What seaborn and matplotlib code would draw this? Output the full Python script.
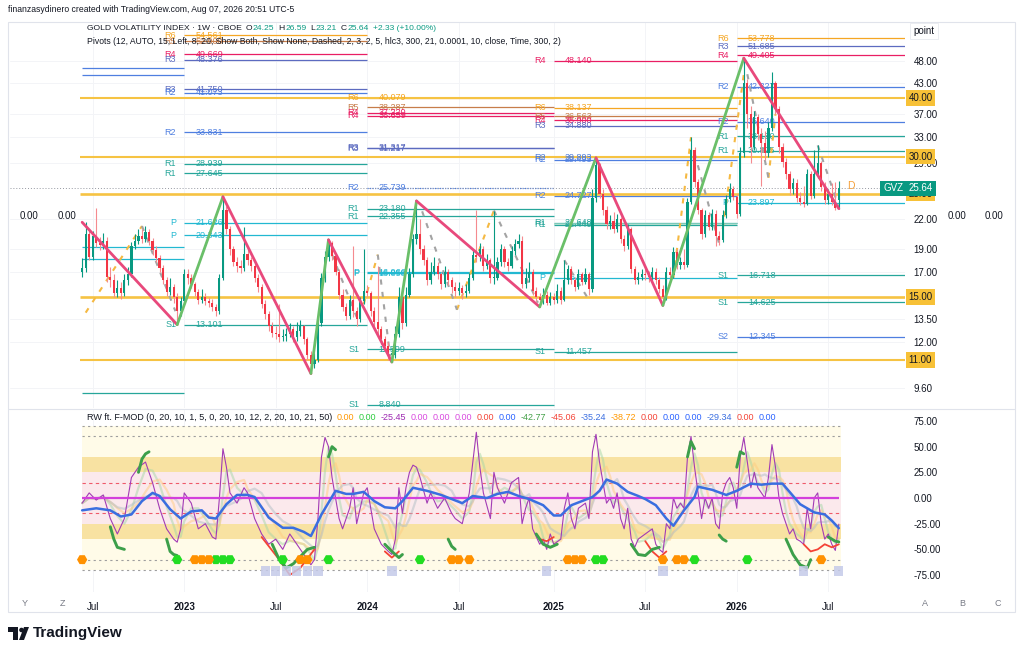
import numpy as np
import pandas as pd
import matplotlib
matplotlib.use("Agg")
import matplotlib.pyplot as plt
import seaborn as sns
from matplotlib.patches import Rectangle, Polygon, Circle
from matplotlib.transforms import Affine2D, blended_transform_factory

# ---------------- DATA ----------------
start_date = "2022-06-13"
first_open = 17.0
last_open = 24.25

closes = [17.3, 20.5, 18.3, 20.3, 19.6, 19.4, 19.8, 16.6, 16.3, 15.3,
          15.7, 15.3, 16.3, 16.8, 19.3, 19.8, 20.3, 20.0, 20.7, 19.8,
          18.9, 18.2, 17.3, 16.3, 15.4, 15.8, 15.0, 14.0, 14.7, 16.8,
          16.5, 16.0, 15.4, 14.8, 15.0, 14.7, 14.6, 14.3, 14.0, 16.5,
          23.0, 21.0, 19.0, 17.8, 17.5, 17.3, 18.6, 18.0, 17.5, 16.5,
          15.8, 14.5, 13.8, 13.0, 12.6, 12.5, 12.3, 12.4, 12.5, 12.8,
          12.3, 12.7, 13.0, 12.2, 11.3, 10.8, 11.0, 13.2, 16.5, 18.3,
          19.6, 18.4, 17.0, 15.2, 14.3, 13.7, 14.8, 14.0, 13.5, 14.7,
          15.5, 15.3, 14.0, 13.3, 12.8, 12.2, 11.8, 11.3, 11.3, 12.5,
          15.0, 13.2, 15.2, 16.8, 20.0, 20.5, 19.0, 18.0, 16.3, 17.0,
          17.5, 16.8, 16.0, 17.0, 16.3, 15.8, 15.5, 15.7, 15.3, 15.5,
          16.5, 18.5, 18.3, 19.0, 17.5, 18.0, 16.5, 16.5, 17.8, 19.0,
          17.8, 17.5, 18.8, 19.5, 19.8, 16.0, 16.5, 17.0, 15.5, 15.0,
          14.8, 15.2, 14.6, 15.0, 14.8, 15.5, 14.8, 16.3, 17.2, 16.3,
          15.8, 16.8, 16.2, 16.8, 15.6, 24.5, 28.8, 25.0, 23.0, 21.5,
          21.8, 21.0, 22.0, 20.0, 19.3, 21.0, 17.2, 16.3, 16.6, 16.8,
          16.7, 16.6, 17.0, 16.3, 15.6, 15.0, 17.0, 16.7, 18.7, 17.6,
          17.8, 17.6, 24.0, 31.0, 26.5, 23.0, 20.5, 22.5, 21.2, 22.6,
          20.3, 19.9, 22.5, 24.3, 25.6, 24.6, 22.6, 30.5, 43.0, 37.0,
          31.5, 36.5, 33.5, 32.0, 30.5, 34.5, 43.0, 38.0, 31.5, 29.2,
          27.5, 25.5, 26.3, 24.5, 24.0, 23.8, 27.5, 24.7, 27.5, 29.0,
          25.8, 24.2, 24.9, 24.0, 23.31, 25.64]

highs = [18.2, 21.7, 21.0, 20.8, 23.3, 20.2, 20.6, 20.2, 17.4, 16.8,
         16.3, 16.2, 16.8, 17.4, 19.7, 20.5, 21.0, 21.0, 21.3, 21.0,
         20.1, 19.3, 18.5, 17.6, 16.6, 16.5, 16.0, 15.3, 15.0, 17.2,
         17.2, 16.8, 16.2, 15.6, 15.6, 15.3, 15.0, 14.9, 14.5, 16.8,
         24.6, 23.5, 21.3, 19.3, 18.3, 18.0, 21.2, 19.0, 18.3, 17.8,
         16.8, 16.0, 14.8, 14.0, 13.3, 13.0, 14.5, 12.8, 12.9, 13.2,
         13.0, 13.3, 13.4, 13.1, 12.3, 11.5, 11.4, 13.5, 16.9, 18.8,
         19.9, 19.8, 18.6, 17.2, 15.6, 14.6, 15.2, 19.3, 14.3, 15.0,
         19.0, 15.9, 15.5, 14.3, 17.5, 13.0, 12.4, 12.0, 11.7, 13.0,
         15.8, 15.5, 15.8, 17.3, 20.5, 24.1, 22.0, 19.4, 18.3, 17.8,
         18.3, 17.8, 17.0, 17.5, 17.2, 16.6, 16.2, 16.2, 15.9, 16.0,
         16.9, 19.0, 23.0, 19.6, 19.3, 18.6, 18.2, 22.9, 18.3, 19.5,
         19.3, 18.2, 19.3, 20.0, 20.5, 20.3, 17.3, 17.8, 17.2, 15.8,
         15.3, 15.7, 15.5, 15.4, 15.3, 16.0, 15.8, 18.0, 17.6, 17.5,
         16.6, 17.2, 17.0, 17.3, 17.0, 25.5, 29.8, 29.0, 25.5, 23.5,
         22.5, 22.8, 22.6, 22.3, 20.4, 21.5, 21.2, 17.5, 17.0, 17.2,
         17.3, 17.1, 17.4, 17.3, 16.6, 15.9, 17.4, 17.4, 19.2, 19.0,
         18.3, 19.0, 24.5, 33.0, 31.5, 26.8, 23.3, 23.0, 22.8, 23.2,
         23.0, 20.8, 23.0, 24.8, 26.3, 26.0, 25.0, 31.5, 48.7, 44.0,
         38.5, 37.5, 37.0, 34.5, 34.0, 35.5, 45.5, 43.5, 38.5, 32.0,
         29.8, 28.0, 27.0, 26.8, 25.2, 26.0, 28.2, 28.0, 31.0, 31.7,
         29.3, 26.5, 25.5, 26.3, 26.5, 26.59]

lows = [16.6, 17.0, 18.0, 18.0, 19.2, 18.9, 19.0, 16.2, 15.8, 15.0,
        15.0, 14.9, 15.1, 15.9, 16.6, 19.0, 19.5, 19.6, 19.7, 19.4,
        18.5, 17.8, 17.0, 16.0, 15.1, 15.2, 14.6, 13.1, 13.7, 14.5,
        16.0, 15.7, 15.1, 14.5, 14.6, 14.4, 14.3, 14.0, 13.7, 13.8,
        16.3, 20.5, 18.5, 17.5, 17.0, 16.9, 17.1, 17.6, 17.1, 16.2,
        15.4, 14.2, 13.5, 12.7, 12.3, 12.2, 12.0, 12.1, 12.1, 12.3,
        12.0, 12.1, 12.4, 11.9, 11.0, 10.3, 10.6, 10.9, 13.0, 16.2,
        17.9, 18.0, 16.7, 14.9, 14.0, 13.4, 13.5, 13.6, 13.0, 13.3,
        14.5, 15.0, 13.7, 13.0, 12.5, 11.9, 11.5, 11.0, 10.9, 11.1,
        12.3, 12.8, 13.0, 15.0, 16.6, 19.5, 18.6, 17.6, 15.9, 16.0,
        16.7, 16.4, 15.6, 15.8, 15.9, 15.3, 15.0, 15.2, 14.9, 15.0,
        15.3, 16.3, 17.8, 17.9, 17.1, 17.2, 16.1, 16.0, 16.3, 17.5,
        17.4, 17.1, 17.3, 18.5, 19.1, 15.7, 15.7, 16.2, 15.2, 14.7,
        14.3, 14.5, 14.4, 14.4, 14.5, 14.6, 14.5, 14.7, 16.0, 16.0,
        15.5, 15.6, 15.9, 16.0, 15.2, 15.4, 24.0, 24.5, 22.5, 21.0,
        21.0, 20.6, 20.7, 19.6, 18.8, 19.0, 16.9, 16.0, 16.0, 16.3,
        16.3, 16.2, 16.3, 16.0, 15.3, 14.4, 14.8, 16.3, 16.5, 17.2,
        17.2, 17.2, 17.4, 23.7, 25.8, 22.6, 20.0, 20.2, 20.9, 20.9,
        19.3, 19.4, 19.7, 22.2, 24.0, 24.2, 22.2, 22.4, 30.0, 34.5,
        29.0, 31.0, 32.5, 26.0, 29.5, 30.0, 34.0, 37.0, 30.5, 28.5,
        26.8, 24.8, 25.0, 24.0, 23.6, 23.4, 23.6, 24.3, 24.5, 27.0,
        25.3, 23.8, 23.8, 23.6, 23.0, 23.21]

# ZigZag pivots (week index, price)
zz_weeks = [0, 27, 40, 65, 70, 88, 95, 130, 146, 165, 188, 215]
zz_prices = [21.7, 13.1, 24.6, 10.3, 19.9, 10.9, 24.1, 14.3, 29.8, 14.4, 48.7, 23.2]

# minor (dashed) zigzag legs: (week0, price0, week1, price1)
minor_up_legs = [(1, 13.9, 17, 21.3), (80, 14.5, 84, 18.5), (106.5, 14.1, 117, 23.0),
                 (168, 16.5, 173, 33.0), (182, 21.0, 188, 45.0), (195, 27.0, 197, 37.0)]
minor_down_legs = [(17, 21.3, 26.5, 14.0), (71, 18.5, 78, 13.6), (84, 18.5, 87.5, 11.2),
                   (96.6, 22.9, 106.5, 14.1), (117, 23.0, 129.5, 14.6), (137, 18.0, 144, 14.8),
                   (174, 30.5, 181, 19.5), (189, 45.0, 195, 27.0), (209, 31.7, 215, 23.4)]

# key horizontal levels
key_levels = [40.0, 30.0, 25.0, 15.0, 11.0]

# pivot blocks (week index boundaries)
block_edges = [0, 29, 81, 134, 186, 234]
pivot_block = [0, 0, 0, 0, 0,
               1, 1, 1, 1, 1, 1, 1, 1, 1, 1, 1, 1,
               2, 2, 2, 2, 2, 2, 2, 2, 2, 2, 2, 2, 2,
               3, 3, 3, 3, 3, 3, 3, 3, 3, 3, 3, 3,
               4, 4, 4, 4, 4, 4, 4, 4, 4, 4, 4]
pivot_name = ["R2", "R2", "P", "P", "S1",
              "R6", "R5", "R4", "R3", "R3", "R2", "R2", "R1", "R1", "P", "P", "S1",
              "R6", "R5", "R4", "R4", "R3", "R3", "R2", "R1", "R1", "P", "P", "S1", "S1",
              "R4", "R6", "R5", "R4", "R3", "R2", "R2", "R2", "R1", "R1", "P", "S1",
              "R6", "R3", "R4", "R2", "R2", "R1", "R1", "P", "S1", "S1", "S2"]
pivot_value = [46.4, 44.8, 19.2, 18.1, 9.36,
               54.561, 52.9, 49.669, 48.376, 41.750, 41.073, 33.831, 28.939, 27.645, 21.626, 20.343, 13.101,
               40.079, 38.287, 37.220, 36.659, 31.317, 31.217, 25.739, 23.180, 22.355, 16.966, 16.858, 11.599, 8.840,
               48.140, 38.137, 36.563, 35.900, 34.880, 29.893, 29.493, 24.727, 21.648, 21.440, 16.515, 11.457,
               53.778, 51.685, 49.405, 42.327, 35.640, 33.150, 30.875, 23.897, 16.718, 14.625, 12.345]

# oscillator (RW ft. F-MOD) — slow blue line
blue_weeks = [0, 4, 8, 11, 14, 17, 20, 22, 25, 28, 31, 34, 36, 38, 41, 44, 47, 49, 53, 57,
              60, 63, 65, 68, 72, 75, 77, 80, 83, 86, 89, 91, 94, 98, 102, 105, 108, 111, 115, 118,
              121, 124, 127, 131, 134, 136, 139, 142, 145, 147, 149, 152, 155, 158, 160, 163, 166, 168, 171, 174,
              175, 179, 183, 186, 190, 193, 196, 199, 201, 204, 208, 211, 213, 215]
blue_vals = [-12, -10, -12, -18, -16, -3, 5, 2, -11, -20, -13, -12, -19, -20, -6, 3, 3, 1, -19, -29,
             -29, -33, -37, -16, 7, 4, 4, 6, -3, -9, -10, -3, 10, 7, 3, -1, -5, 2, 0, 4,
             6, 2, -1, -7, -17, -17, -7, -3, 1, 7, 18, 14, 6, 2, -1, -7, -20, -27, -12, 1,
             11, 8, 3, 7, 14, 13, 14, 14, 6, -6, -14, -16, -22, -29.34]

# fast purple line
purple_weeks = [0, 2, 4, 6, 8, 10, 12, 14, 16, 18, 20, 22, 24, 26, 27, 28, 29, 31, 33, 35,
                37, 38, 39, 40, 41, 42, 44, 46, 47, 49, 51, 53, 55, 57, 59, 61, 63, 65, 66, 67,
                68, 69, 70, 71, 72, 73, 74, 76, 77, 78, 80, 81, 83, 85, 87, 88, 89, 90, 91, 92,
                93, 94, 95, 96, 98, 99, 101, 103, 105, 106, 108, 110, 111, 112, 113, 114, 116, 117, 118, 120,
                122, 124, 125, 126, 127, 128, 130, 131, 132, 133, 134, 136, 137, 138, 139, 140, 141, 143, 144, 145,
                146, 147, 148, 149, 150, 151, 152, 153, 154, 155, 156, 157, 158, 160, 162, 163, 164, 165, 166, 167,
                168, 169, 170, 171, 172, 173, 174, 175, 176, 177, 178, 179, 180, 181, 182, 183, 184, 185, 186, 187,
                188, 189, 190, 191, 192, 193, 194, 195, 196, 197, 198, 199, 200, 201, 202, 203, 204, 205, 206, 207,
                208, 209, 210, 211, 212, 213, 214, 215]
purple_vals = [-5, 5, -2, 3, -20, -35, -20, 20, 30, 35, 15, -10, -30, -40, -43, -30, 5, -5, -30, -25,
               -38, -40, 0, 48, 30, 5, -5, 10, 5, -20, -35, -45, -40, -50, -35, -45, -55, -65, -60, -20,
               40, 59, 50, 20, 0, -20, -30, -10, 10, -25, 5, 10, -30, -45, -52, -55, -40, 10, -15, 10,
               25, 32, 30, 20, -5, 5, -10, 0, -15, -20, -25, 5, 35, 64, 30, 5, -20, 25, 10, -5,
               15, 20, -25, -10, 0, -30, -45, -40, -50, -35, -45, -40, -10, 5, -20, -30, -10, -5, -20, 45,
               62, 35, 15, -5, 0, -10, 5, -20, -30, -10, -40, -48, -40, -35, -30, -45, -50, -53, -25, -30,
               0, -10, -5, -10, 40, 60, 30, 5, -20, 0, -10, 0, -25, -30, 5, 15, 20, 10, -10, 40,
               59, 35, 10, 25, 10, 5, 0, 20, 52, 30, 0, -15, -25, -35, -30, -40, -42, -45, -10, -30,
               0, 5, -25, -40, -35, -45, -51, -25.45]

# green (signal) and red segments of the oscillator
green_segments = [
    ([8, 9, 10, 12], [-28, -40, -48, -50]),
    ([16, 17, 18, 19], [25, 38, 43, 45]),
    ([24, 25, 26, 27], [-40, -52, -55, -56]),
    ([54, 56, 58, 60, 62, 64, 66], [-45, -60, -68, -64, -57, -50, -48]),
    ([70, 71, 72], [40, 50, 47]),
    ([86, 88, 90, 91], [-45, -52, -58, -55]),
    ([104, 105, 106], [-40, -47, -50]),
    ([129, 131, 133, 135], [-35, -45, -48, -45]),
    ([156, 158, 160, 162, 164], [-45, -55, -56, -50, -48]),
    ([172, 173, 174], [40, 55, 48]),
    ([181, 182, 183], [-36, -40, -42]),
    ([186, 187, 188], [30, 45, 43]),
    ([200, 202, 204, 206, 207], [-40, -55, -65, -68, -60]),
    ([212, 214, 215], [-38, -42, -42.77]),
]
red_segments = [
    ([51, 56, 59, 62, 66], [-38, -60, -75, -68, -50]),
    ([86, 88, 90], [-52, -58, -52]),
    ([130, 132, 134], [-40, -42, -38]),
    ([160, 162, 164, 166], [-42, -52, -58, -52]),
    ([205, 207, 209, 211, 213, 215], [-45, -52, -50, -45, -48, -45.06]),
]
green_marks = [27, 38, 40, 42, 57, 70, 96, 146, 148, 174, 189]
orange_marks = [0, 32, 34, 36, 62, 64, 105, 107, 110, 138, 140, 142, 165, 169, 171, 210]
lavender_marks = [52, 55, 58, 61, 64, 67, 88, 132, 165, 205, 215]

price_ticks = [9.6, 12, 13.5, 17, 19, 22, 29, 33, 37, 43, 48]
osc_ticks = [75, 50, 25, 0, -25, -50, -75]

# ---------------- STYLE ----------------
sns.set_theme(style="white")
plt.rcParams["font.family"] = ["Liberation Sans", "DejaVu Sans"]

UP, DN, DN_WICK = "#089981", "#f23645", "#f58a8f"
ORANGE_LVL = "#f6c343"
name_colors = {"R6": "#f5a623", "R5": "#c77d4a", "R4": "#e91e63", "R3": "#5c6bc0",
               "R2": "#4f7fe0", "R1": "#26a69a", "P": "#22b8d1", "S1": "#26a69a", "S2": "#4f7fe0"}
TXT = "#131722"

W, H = 1024, 655
fig = plt.figure(figsize=(W / 100, H / 100), dpi=100)
fig.patch.set_facecolor("white")
pix = Affine2D().scale(1 / W, -1 / H).translate(0, 1) + fig.transFigure
renderer = fig.canvas.get_renderer()


def fx(p):
    return p / W


def fy(p):
    return 1 - p / H


def chain(x_px, y_px, parts, size=7):
    """Draw consecutive text parts, each starting where the previous ended."""
    x = x_px
    for txt, col, extra in parts:
        x += extra
        t = fig.text(fx(x), fy(y_px), txt, fontsize=size, color=col, va="center", ha="left")
        x += t.get_window_extent(renderer=renderer).width


axp = fig.add_axes([fx(10), fy(408), fx(905) - fx(10), fy(22) - fy(408)])
axo = fig.add_axes([fx(10), fy(592), fx(905) - fx(10), fy(410) - fy(592)])
XL = (-20.5, 233.8)

n = len(closes)
xw = np.arange(n)
dates = pd.date_range(start_date, periods=n, freq="W-MON")
c = np.array(closes)
o = np.array([first_open] + closes[:-1])
o[-1] = last_open
hi = np.array(highs)
lo = np.array(lows)

tick_pos, tick_lab = [], []
for i in range(1, n):
    if dates[i].month != dates[i - 1].month and dates[i].month in (1, 7):
        tick_pos.append(i)
        tick_lab.append("Jul" if dates[i].month == 7 else str(dates[i].year))

# ---------------- PRICE PANE ----------------
ax = axp
ax.set_yscale("log")
ax.set_xlim(*XL)
ax.set_ylim(8.69, 58.2)
for s in ax.spines.values():
    s.set_visible(False)
for t in price_ticks:
    ax.axhline(t, color="#f3f4f7", lw=0.7, zorder=0)
for t in tick_pos:
    ax.axvline(t, color="#f3f4f7", lw=0.7, zorder=0)

for b, nm, v in zip(pivot_block, pivot_name, pivot_value):
    x0, x1 = block_edges[b], block_edges[b + 1]
    col = name_colors[nm]
    ls = (0, (1, 1)) if (b == 2 and nm == "R2") else "-"
    ax.hlines(v, x0, x1, color=col, lw=0.9, ls=ls, zorder=1)
    if b >= 1:
        ax.text(x0 - 2.3, v, nm, color=col, fontsize=6.5, ha="right", va="center", zorder=2)
        ax.text(x0 + 3.2, v, f"{v:.3f}", color=col, fontsize=6.5, ha="left", va="center", zorder=2)
ax.fill_between([block_edges[3], block_edges[4]], 21.44, 21.65, color="#9fd8c6", alpha=0.7, lw=0, zorder=1)

for v in key_levels:
    ax.hlines(v, -0.5, XL[1], color=ORANGE_LVL, lw=1.9 if v in (25.0, 15.0) else 1.5, zorder=1.5)

ax.axhline(closes[-1], color="#9598a1", lw=0.7, ls=(0, (1, 2)), zorder=1.5)

for legs, col in ((minor_up_legs, "#f5b942"), (minor_down_legs, "#a3a3a3")):
    for w0, p0, w1, p1 in legs:
        sns.lineplot(x=[w0, w1], y=[p0, p1], ax=ax, color=col, lw=1.5, ls=(0, (2.5, 3.5)),
                     estimator=None, zorder=2.5)

up = c >= o
wick_cols = np.where(up, UP, DN_WICK)
body_cols = np.where(up, UP, DN)
ax.vlines(xw, lo, hi, colors=wick_cols, lw=0.8, zorder=3)
bottoms = np.minimum(o, c)
heights = np.maximum(np.abs(c - o), bottoms * 0.006)
ax.bar(xw, heights, bottom=bottoms, width=0.62, color=body_cols, lw=0, zorder=4)

for i in range(len(zz_weeks) - 1):
    seg = pd.DataFrame({"w": zz_weeks[i:i + 2], "p": zz_prices[i:i + 2]})
    col = "#6abf69" if zz_prices[i + 1] > zz_prices[i] else "#e8497c"
    sns.lineplot(data=seg, x="w", y="p", ax=ax, color=col, lw=2.0, estimator=None, sort=False, zorder=5)

ax.set_xlabel("")
ax.set_ylabel("")
ax.yaxis.tick_right()
ax.set_yticks(price_ticks)
ax.set_yticklabels([f"{t:.2f}" for t in price_ticks])
ax.yaxis.set_minor_locator(matplotlib.ticker.NullLocator())
ax.tick_params(axis="y", length=0, pad=6, labelsize=7, colors=TXT)
ax.set_xticks([])

bt = blended_transform_factory(ax.transAxes, ax.transData)
for v in key_levels:
    ax.text(1.004, v, f"{v:.2f}", transform=bt, fontsize=7, ha="left", va="center", color=TXT,
            bbox=dict(boxstyle="square,pad=0.28", fc="#f7c137", ec="none"), zorder=10, clip_on=False)
ax.text(1.004, closes[-1], f"{closes[-1]:.2f}", transform=bt, fontsize=7, ha="left", va="center",
        color="white", bbox=dict(boxstyle="square,pad=0.28", fc="#089981", ec="none"), zorder=10, clip_on=False)
ax.text(0.998, closes[-1], "GVZ", transform=bt, fontsize=7, ha="right", va="center", color="white",
        bbox=dict(boxstyle="square,pad=0.28", fc="#089981", ec="none"), zorder=10, clip_on=False)
ax.text(218.5, 25.9, "D", color="#f5a03a", fontsize=7.5, ha="center", va="center", zorder=6)

# ---------------- OSCILLATOR PANE ----------------
ax = axo
ax.set_xlim(*XL)
ax.set_ylim(-91.5, 85.7)
for s in ax.spines.values():
    s.set_visible(False)
for t in tick_pos:
    ax.axvline(t, color="#f3f4f7", lw=0.7, zorder=0)
xb = [0, 215.5]
ax.fill_between(xb, -70, 70, color="#fffbe8", lw=0, zorder=0.5)
ax.fill_between(xb, -25, 25, color="#fbe9ec", lw=0, zorder=0.6)
ax.fill_between(xb, 25, 40, color="#f8e2a2", lw=0, zorder=0.6)
ax.fill_between(xb, -40, -25, color="#f8e2a2", lw=0, zorder=0.6)
for v in (70, 60, -60, -70):
    ax.hlines(v, xb[0], xb[1], color="#9e9e9e", lw=0.8, ls=(0, (2, 3)), zorder=0.8)
for v in (15, -15):
    ax.hlines(v, xb[0], xb[1], color="#ef5a6a", lw=0.8, ls=(0, (3, 3)), zorder=0.8)

pdf = pd.DataFrame({"w": purple_weeks, "v": purple_vals})
for win, col in ((3, "#a5d6a7"), (5, "#ffcc80"), (8, "#b0bec5")):
    sm = pdf.assign(v=pdf["v"].rolling(win, min_periods=1).mean())
    sns.lineplot(data=sm, x="w", y="v", ax=ax, color=col, lw=1.6, alpha=0.5, estimator=None, zorder=1)

sns.lineplot(x=purple_weeks, y=purple_vals, ax=ax, color="#a23bb5", lw=0.8, estimator=None, zorder=2)
ax.hlines(0, 0, 215, color="#d33fdc", lw=1.6, zorder=2.5)
sns.lineplot(x=blue_weeks, y=blue_vals, ax=ax, color="#3a6ee0", lw=1.8, estimator=None, zorder=3)
for ws, vs in red_segments:
    sns.lineplot(x=ws, y=vs, ax=ax, color="#f44336", lw=1.3, estimator=None, zorder=3.5)
for ws, vs in green_segments:
    sns.lineplot(x=ws, y=vs, ax=ax, color="#3c9f4a", lw=2.1, estimator=None, zorder=4)

sns.scatterplot(x=lavender_marks, y=[-71] * len(lavender_marks), ax=ax, marker="s", s=45,
                color="#c5cae9", edgecolor="none", alpha=0.85, zorder=4.5)
sns.scatterplot(x=green_marks, y=[-60] * len(green_marks), ax=ax, marker="H", s=55,
                color="#22dd22", edgecolor="none", zorder=5)
sns.scatterplot(x=orange_marks, y=[-60] * len(orange_marks), ax=ax, marker="H", s=55,
                color="#ff9100", edgecolor="none", zorder=5)

ax.set_xlabel("")
ax.set_ylabel("")
ax.yaxis.tick_right()
ax.set_yticks(osc_ticks)
ax.set_yticklabels([f"{t:.2f}" for t in osc_ticks])
ax.tick_params(axis="y", length=0, pad=6, labelsize=7, colors=TXT)
ax.set_xticks(tick_pos)
ax.set_xticklabels(tick_lab)
ax.tick_params(axis="x", length=0, pad=7, labelsize=7, colors=TXT)
for lab in ax.get_xticklabels():
    if lab.get_text() != "Jul":
        lab.set_fontweight("bold")

# ---------------- FRAME & TEXT ----------------
fig.add_artist(Rectangle((8, 22), 1007, 590, transform=pix, fill=False, ec="#e0e3eb", lw=0.8))
fig.add_artist(plt.Line2D([8, 1015], [409, 409], transform=pix, color="#e0e3eb", lw=0.8))

fig.text(fx(8), fy(10), "finanzasydinero created with TradingView.com, Aug 07, 2026 20:51 UTC-5",
         fontsize=6.2, color=TXT, va="center", ha="left")
G = "#089981"
chain(87, 29, [("GOLD VOLATILITY INDEX · 1W · CBOE", TXT, 0),
               ("O", TXT, 4), ("24.25", G, 0.5), ("H", TXT, 4), ("26.59", G, 0.5),
               ("L", TXT, 4), ("23.21", G, 0.5), ("C", TXT, 4), ("25.64", G, 0.5),
               ("+2.33 (+10.00%)", G, 4)], size=6.1)
fig.text(fx(87), fy(41), "Pivots (12, AUTO, 15, Left, 8, 20, Show Both, Show None, Dashed, 2, 3, 2, 5, hlc3, "
         "300, 21, 0.0001, 10, close, Time, 300, 2)", fontsize=6.2, color=TXT, va="center")

osc_legend = [("0.00", "#ff9800"), ("0.00", "#2ecc40"), ("-25.45", "#9c27b0"),
              ("0.00", "#d94adf"), ("0.00", "#d94adf"), ("0.00", "#d94adf"),
              ("0.00", "#f44336"), ("0.00", "#2962ff"), ("-42.77", "#43a047"),
              ("-45.06", "#f44336"), ("-35.24", "#3a6ee0"), ("-38.72", "#ff9800"),
              ("0.00", "#f44336"), ("0.00", "#2962ff"), ("0.00", "#2962ff"),
              ("-29.34", "#3a6ee0"), ("0.00", "#f44336"), ("0.00", "#2962ff")]
chain(87, 418, [("RW ft. F-MOD (0, 20, 10, 1, 5, 0, 20, 10, 12, 2, 20, 10, 21, 50)", TXT, 0)]
      + [(t, col, 4.5) for t, col in osc_legend], size=6.5)

for t, px in (("0.00", 29), ("0.00", 67), ("0.00", 957), ("0.00", 994)):
    fig.text(fx(px), fy(216), t, fontsize=7, color=TXT, va="center", ha="center")
fig.text(fx(924), fy(31), "point", fontsize=7, color=TXT, va="center", ha="center",
         bbox=dict(boxstyle="square,pad=0.35", fc="white", ec="#e8eaef", lw=0.6))
for t, px in (("Y", 25), ("Z", 63), ("A", 925), ("B", 962), ("C", 998)):
    fig.text(fx(px), fy(603), t, fontsize=6.5, color="#787b86", va="center", ha="center")

fig.add_artist(Polygon([(8, 627), (18, 627), (18, 640), (13, 640), (13, 632), (8, 632)],
                       closed=True, transform=pix, fc=TXT, ec="none"))
fig.add_artist(Circle((21.5, 630), 2.3, transform=pix, fc=TXT, ec="none"))
fig.add_artist(Polygon([(19, 640), (24, 627), (29, 627), (24, 640)], closed=True,
                       transform=pix, fc=TXT, ec="none"))
fig.text(fx(33), fy(633), "TradingView", fontsize=11, fontweight="bold", color=TXT, va="center")

fig.savefig("out.png", dpi=100, facecolor="white")
